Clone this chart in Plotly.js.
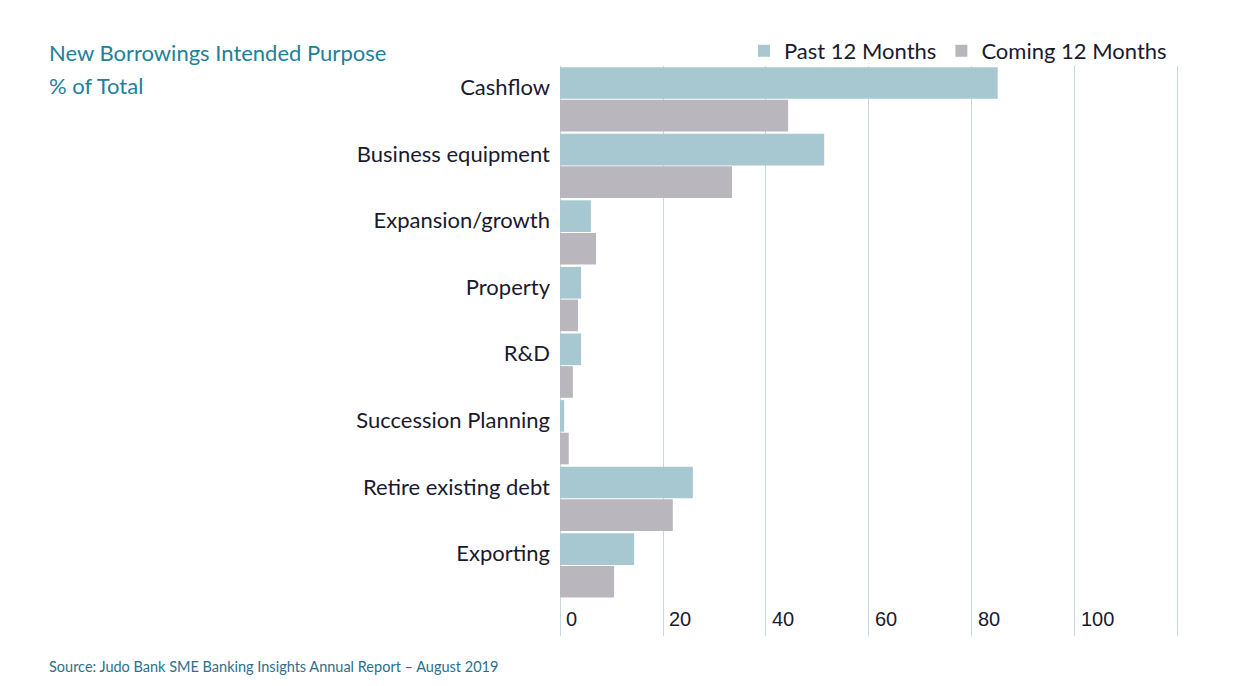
<!DOCTYPE html>
<html>
<head>
<meta charset="utf-8">
<script src="https://cdn.plot.ly/plotly-3.0.1.min.js"></script>
<style>html,body{margin:0;padding:0;background:#fff;}#chart{width:1258px;height:686px;}</style>
</head>
<body>
<div id="chart"></div>
<script>
const categories = ["Cashflow", "Business equipment", "Expansion/growth", "Property", "R&D", "Succession Planning", "Retire existing debt", "Exporting"];
const past12 = [85, 51.3, 6.0, 4.1, 4.1, 0.8, 25.8, 14.4];
const coming12 = [44.3, 33.4, 7.0, 3.5, 2.5, 1.7, 21.9, 10.5];
const xTickVals = [0, 20, 40, 60, 80, 100, 120];
const xTickText = ["0", "20", "40", "60", "80", "100", ""];

const labelFont = "Lato, 'Noto Sans', sans-serif";
const teal = "#23809a";
const plotW = 619;
const leftX = (47 - 560) / plotW;

const traces = [
  {type: "bar", orientation: "h", name: "Past 12 Months", y: categories, x: past12,
   marker: {color: "#a7c8d0"}, hoverinfo: "x+y"},
  {type: "bar", orientation: "h", name: "Coming 12 Months", y: categories, x: coming12,
   marker: {color: "#b9b7bd"}, hoverinfo: "x+y"}
];

const layout = {
  width: 1258, height: 686,
  paper_bgcolor: "#fff", plot_bgcolor: "#fff",
  margin: {l: 560, r: 79, t: 66, b: 50},
  barmode: "group", bargap: 0.02, bargroupgap: 0.03,
  showlegend: true,
  legend: {orientation: "h", x: (1172 - 560) / plotW, xanchor: "right", y: 1 + (66 - 51) / 570, yanchor: "middle",
           yref: "paper", font: {family: labelFont, size: 22, color: "#1a1a2e"},
           itemwidth: 30, tracegroupgap: 0, bgcolor: "rgba(0,0,0,0)"},
  xaxis: {range: [0, 120.2], tickvals: xTickVals, ticktext: xTickText,
          showgrid: true, gridcolor: "#c3d9e0", gridwidth: 1,
          zeroline: true, zerolinecolor: "#c3d9e0", zerolinewidth: 1,
          showline: false, ticks: "", ticklabelposition: "inside right", ticklabelshift: 6,
          tickfont: {family: "'Liberation Sans', Arial, sans-serif", size: 20, color: "#1a1a2e"},
          fixedrange: true},
  yaxis: {type: "category", range: [8.06, -0.5], showgrid: false, zeroline: false,
          showline: false, ticks: "", ticklabelstandoff: 9, ticklabelshift: 12,
          tickfont: {family: labelFont, size: 22, color: "#1a1a2e"}, fixedrange: true},
  annotations: [
    {text: "New Borrowings Intended Purpose", xref: "paper", yref: "paper", x: leftX, xanchor: "left",
     y: 1 + (66 - 53) / 570, yanchor: "middle", showarrow: false,
     font: {family: labelFont, size: 22, color: teal}},
    {text: "% of Total", xref: "paper", yref: "paper", x: leftX, xanchor: "left",
     y: 1 - (85 - 66) / 570, yanchor: "middle", showarrow: false,
     font: {family: labelFont, size: 22, color: teal}},
    {text: "Source: Judo Bank SME Banking Insights Annual Report \u2013 August 2019", xref: "paper", yref: "paper",
     x: leftX, xanchor: "left", y: -(666 - 636) / 570, yanchor: "middle", showarrow: false,
     font: {family: labelFont, size: 14.5, color: "#2b6f8c"}}
  ]
};

Plotly.newPlot("chart", traces, layout, {displayModeBar: false, staticPlot: true});
</script>
</body>
</html>
